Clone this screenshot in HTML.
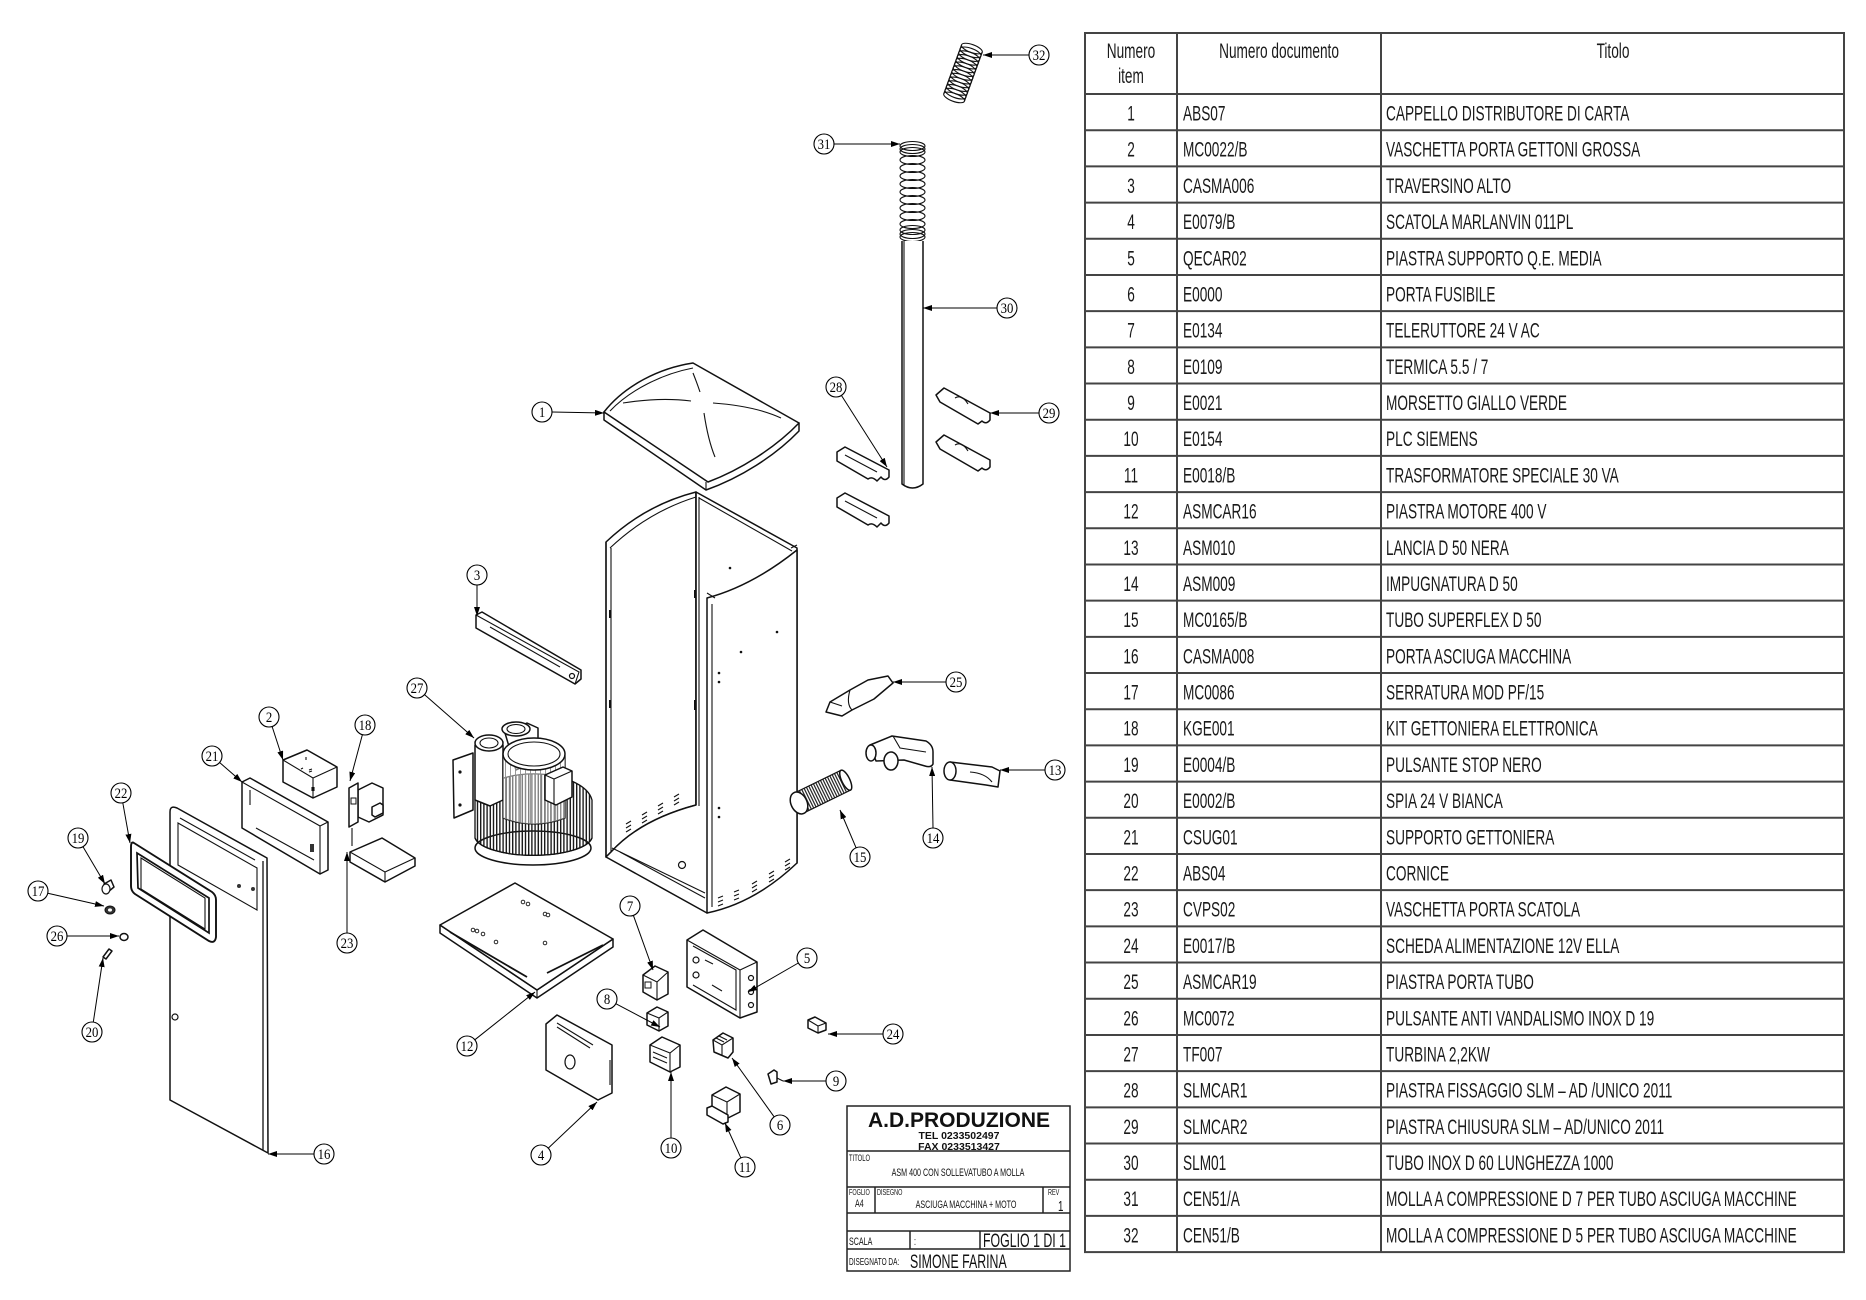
<!DOCTYPE html>
<html><head><meta charset="utf-8"><style>
html,body{margin:0;padding:0;background:#fff;}
svg{display:block;}
.t{font-family:"Liberation Sans",sans-serif;font-size:21px;fill:#1a1a1a;}
.n{font-family:"Liberation Serif",serif;font-size:15px;fill:#000;}
.p{fill:#fff;stroke:#111;stroke-width:1.5;stroke-linejoin:round;}
.l{fill:none;stroke:#111;stroke-width:1.3;}
.ld{fill:none;stroke:#111;stroke-width:1.1;}
.c{fill:#fff;stroke:#111;stroke-width:1.2;}
.tb{font-family:"Liberation Sans",sans-serif;fill:#111;}
</style></head><body>
<svg width="1866" height="1300" viewBox="0 0 1866 1300" xmlns="http://www.w3.org/2000/svg">
<defs>
<marker id="a" markerWidth="9" markerHeight="6" refX="9" refY="3" orient="auto" markerUnits="userSpaceOnUse"><path d="M0,0 L9,3 L0,6 Z" fill="#000"/></marker>
<pattern id="fins" width="3.2" height="20" patternUnits="userSpaceOnUse"><rect x="0" y="0" width="1.4" height="20" fill="#1a1a1a"/></pattern>
<pattern id="mf" width="5" height="20" patternUnits="userSpaceOnUse"><rect x="0" y="0" width="0.9" height="20" fill="#333"/></pattern>
<pattern id="corr" width="2.6" height="20" patternUnits="userSpaceOnUse"><rect x="0" y="0" width="1.2" height="20" fill="#222"/></pattern>
</defs>
<rect width="1866" height="1300" fill="#fff"/>

<!-- ========== TABLE ========== -->
<g stroke="#444" stroke-width="2" fill="none">
<rect x="1085" y="33" width="759" height="1219.1"/>
<line x1="1177" y1="33" x2="1177" y2="1252"/>
<line x1="1381" y1="33" x2="1381" y2="1252"/>
<line x1="1085" y1="94" x2="1844" y2="94"/>
<line x1="1085" y1="130.19" x2="1844" y2="130.19"/>
<line x1="1085" y1="166.38" x2="1844" y2="166.38"/>
<line x1="1085" y1="202.57" x2="1844" y2="202.57"/>
<line x1="1085" y1="238.76" x2="1844" y2="238.76"/>
<line x1="1085" y1="274.95" x2="1844" y2="274.95"/>
<line x1="1085" y1="311.14" x2="1844" y2="311.14"/>
<line x1="1085" y1="347.33" x2="1844" y2="347.33"/>
<line x1="1085" y1="383.52" x2="1844" y2="383.52"/>
<line x1="1085" y1="419.71" x2="1844" y2="419.71"/>
<line x1="1085" y1="455.9" x2="1844" y2="455.9"/>
<line x1="1085" y1="492.09" x2="1844" y2="492.09"/>
<line x1="1085" y1="528.28" x2="1844" y2="528.28"/>
<line x1="1085" y1="564.47" x2="1844" y2="564.47"/>
<line x1="1085" y1="600.66" x2="1844" y2="600.66"/>
<line x1="1085" y1="636.85" x2="1844" y2="636.85"/>
<line x1="1085" y1="673.04" x2="1844" y2="673.04"/>
<line x1="1085" y1="709.23" x2="1844" y2="709.23"/>
<line x1="1085" y1="745.42" x2="1844" y2="745.42"/>
<line x1="1085" y1="781.61" x2="1844" y2="781.61"/>
<line x1="1085" y1="817.8" x2="1844" y2="817.8"/>
<line x1="1085" y1="853.99" x2="1844" y2="853.99"/>
<line x1="1085" y1="890.18" x2="1844" y2="890.18"/>
<line x1="1085" y1="926.37" x2="1844" y2="926.37"/>
<line x1="1085" y1="962.56" x2="1844" y2="962.56"/>
<line x1="1085" y1="998.75" x2="1844" y2="998.75"/>
<line x1="1085" y1="1034.94" x2="1844" y2="1034.94"/>
<line x1="1085" y1="1071.13" x2="1844" y2="1071.13"/>
<line x1="1085" y1="1107.32" x2="1844" y2="1107.32"/>
<line x1="1085" y1="1143.51" x2="1844" y2="1143.51"/>
<line x1="1085" y1="1179.7" x2="1844" y2="1179.7"/>
<line x1="1085" y1="1215.89" x2="1844" y2="1215.89"/>
</g>
<g class="t">
<text text-anchor="middle" transform="translate(1131,58) scale(0.65,1)">Numero</text>
<text text-anchor="middle" transform="translate(1131,83) scale(0.65,1)">item</text>
<text text-anchor="middle" transform="translate(1279,58) scale(0.65,1)">Numero documento</text>
<text text-anchor="middle" transform="translate(1613,58) scale(0.65,1)">Titolo</text>
</g>
<g class="t">
<text text-anchor="middle" transform="translate(1131,120.5) scale(0.65,1)">1</text><text transform="translate(1183,120.5) scale(0.65,1)">ABS07</text><text transform="translate(1386,120.5) scale(0.65,1)">CAPPELLO DISTRIBUTORE DI CARTA</text>
<text text-anchor="middle" transform="translate(1131,156.7) scale(0.65,1)">2</text><text transform="translate(1183,156.7) scale(0.65,1)">MC0022/B</text><text transform="translate(1386,156.7) scale(0.65,1)">VASCHETTA PORTA GETTONI GROSSA</text>
<text text-anchor="middle" transform="translate(1131,192.9) scale(0.65,1)">3</text><text transform="translate(1183,192.9) scale(0.65,1)">CASMA006</text><text transform="translate(1386,192.9) scale(0.65,1)">TRAVERSINO ALTO</text>
<text text-anchor="middle" transform="translate(1131,229.1) scale(0.65,1)">4</text><text transform="translate(1183,229.1) scale(0.65,1)">E0079/B</text><text transform="translate(1386,229.1) scale(0.65,1)">SCATOLA MARLANVIN 011PL</text>
<text text-anchor="middle" transform="translate(1131,265.3) scale(0.65,1)">5</text><text transform="translate(1183,265.3) scale(0.65,1)">QECAR02</text><text transform="translate(1386,265.3) scale(0.65,1)">PIASTRA SUPPORTO Q.E. MEDIA</text>
<text text-anchor="middle" transform="translate(1131,301.5) scale(0.65,1)">6</text><text transform="translate(1183,301.5) scale(0.65,1)">E0000</text><text transform="translate(1386,301.5) scale(0.65,1)">PORTA FUSIBILE</text>
<text text-anchor="middle" transform="translate(1131,337.6) scale(0.65,1)">7</text><text transform="translate(1183,337.6) scale(0.65,1)">E0134</text><text transform="translate(1386,337.6) scale(0.65,1)">TELERUTTORE 24 V AC</text>
<text text-anchor="middle" transform="translate(1131,373.8) scale(0.65,1)">8</text><text transform="translate(1183,373.8) scale(0.65,1)">E0109</text><text transform="translate(1386,373.8) scale(0.65,1)">TERMICA 5.5 / 7</text>
<text text-anchor="middle" transform="translate(1131,410) scale(0.65,1)">9</text><text transform="translate(1183,410) scale(0.65,1)">E0021</text><text transform="translate(1386,410) scale(0.65,1)">MORSETTO GIALLO VERDE</text>
<text text-anchor="middle" transform="translate(1131,446.2) scale(0.65,1)">10</text><text transform="translate(1183,446.2) scale(0.65,1)">E0154</text><text transform="translate(1386,446.2) scale(0.65,1)">PLC SIEMENS</text>
<text text-anchor="middle" transform="translate(1131,482.4) scale(0.65,1)">11</text><text transform="translate(1183,482.4) scale(0.65,1)">E0018/B</text><text transform="translate(1386,482.4) scale(0.65,1)">TRASFORMATORE SPECIALE 30 VA</text>
<text text-anchor="middle" transform="translate(1131,518.6) scale(0.65,1)">12</text><text transform="translate(1183,518.6) scale(0.65,1)">ASMCAR16</text><text transform="translate(1386,518.6) scale(0.65,1)">PIASTRA MOTORE 400 V</text>
<text text-anchor="middle" transform="translate(1131,554.8) scale(0.65,1)">13</text><text transform="translate(1183,554.8) scale(0.65,1)">ASM010</text><text transform="translate(1386,554.8) scale(0.65,1)">LANCIA D 50 NERA</text>
<text text-anchor="middle" transform="translate(1131,591) scale(0.65,1)">14</text><text transform="translate(1183,591) scale(0.65,1)">ASM009</text><text transform="translate(1386,591) scale(0.65,1)">IMPUGNATURA D 50</text>
<text text-anchor="middle" transform="translate(1131,627.2) scale(0.65,1)">15</text><text transform="translate(1183,627.2) scale(0.65,1)">MC0165/B</text><text transform="translate(1386,627.2) scale(0.65,1)">TUBO SUPERFLEX D 50</text>
<text text-anchor="middle" transform="translate(1131,663.4) scale(0.65,1)">16</text><text transform="translate(1183,663.4) scale(0.65,1)">CASMA008</text><text transform="translate(1386,663.4) scale(0.65,1)">PORTA ASCIUGA MACCHINA</text>
<text text-anchor="middle" transform="translate(1131,699.5) scale(0.65,1)">17</text><text transform="translate(1183,699.5) scale(0.65,1)">MC0086</text><text transform="translate(1386,699.5) scale(0.65,1)">SERRATURA MOD PF/15</text>
<text text-anchor="middle" transform="translate(1131,735.7) scale(0.65,1)">18</text><text transform="translate(1183,735.7) scale(0.65,1)">KGE001</text><text transform="translate(1386,735.7) scale(0.65,1)">KIT GETTONIERA ELETTRONICA</text>
<text text-anchor="middle" transform="translate(1131,771.9) scale(0.65,1)">19</text><text transform="translate(1183,771.9) scale(0.65,1)">E0004/B</text><text transform="translate(1386,771.9) scale(0.65,1)">PULSANTE STOP NERO</text>
<text text-anchor="middle" transform="translate(1131,808.1) scale(0.65,1)">20</text><text transform="translate(1183,808.1) scale(0.65,1)">E0002/B</text><text transform="translate(1386,808.1) scale(0.65,1)">SPIA 24 V BIANCA</text>
<text text-anchor="middle" transform="translate(1131,844.3) scale(0.65,1)">21</text><text transform="translate(1183,844.3) scale(0.65,1)">CSUG01</text><text transform="translate(1386,844.3) scale(0.65,1)">SUPPORTO GETTONIERA</text>
<text text-anchor="middle" transform="translate(1131,880.5) scale(0.65,1)">22</text><text transform="translate(1183,880.5) scale(0.65,1)">ABS04</text><text transform="translate(1386,880.5) scale(0.65,1)">CORNICE</text>
<text text-anchor="middle" transform="translate(1131,916.7) scale(0.65,1)">23</text><text transform="translate(1183,916.7) scale(0.65,1)">CVPS02</text><text transform="translate(1386,916.7) scale(0.65,1)">VASCHETTA PORTA SCATOLA</text>
<text text-anchor="middle" transform="translate(1131,952.9) scale(0.65,1)">24</text><text transform="translate(1183,952.9) scale(0.65,1)">E0017/B</text><text transform="translate(1386,952.9) scale(0.65,1)">SCHEDA ALIMENTAZIONE 12V ELLA</text>
<text text-anchor="middle" transform="translate(1131,989.1) scale(0.65,1)">25</text><text transform="translate(1183,989.1) scale(0.65,1)">ASMCAR19</text><text transform="translate(1386,989.1) scale(0.65,1)">PIASTRA PORTA TUBO</text>
<text text-anchor="middle" transform="translate(1131,1025.3) scale(0.65,1)">26</text><text transform="translate(1183,1025.3) scale(0.65,1)">MC0072</text><text transform="translate(1386,1025.3) scale(0.65,1)">PULSANTE ANTI VANDALISMO INOX D 19</text>
<text text-anchor="middle" transform="translate(1131,1061.4) scale(0.65,1)">27</text><text transform="translate(1183,1061.4) scale(0.65,1)">TF007</text><text transform="translate(1386,1061.4) scale(0.65,1)">TURBINA 2,2KW</text>
<text text-anchor="middle" transform="translate(1131,1097.6) scale(0.65,1)">28</text><text transform="translate(1183,1097.6) scale(0.65,1)">SLMCAR1</text><text transform="translate(1386,1097.6) scale(0.65,1)">PIASTRA FISSAGGIO SLM – AD /UNICO 2011</text>
<text text-anchor="middle" transform="translate(1131,1133.8) scale(0.65,1)">29</text><text transform="translate(1183,1133.8) scale(0.65,1)">SLMCAR2</text><text transform="translate(1386,1133.8) scale(0.65,1)">PIASTRA CHIUSURA SLM – AD/UNICO 2011</text>
<text text-anchor="middle" transform="translate(1131,1170) scale(0.65,1)">30</text><text transform="translate(1183,1170) scale(0.65,1)">SLM01</text><text transform="translate(1386,1170) scale(0.65,1)">TUBO INOX D 60 LUNGHEZZA 1000</text>
<text text-anchor="middle" transform="translate(1131,1206.2) scale(0.65,1)">31</text><text transform="translate(1183,1206.2) scale(0.65,1)">CEN51/A</text><text transform="translate(1386,1206.2) scale(0.65,1)">MOLLA A COMPRESSIONE D 7 PER TUBO ASCIUGA MACCHINE</text>
<text text-anchor="middle" transform="translate(1131,1242.4) scale(0.65,1)">32</text><text transform="translate(1183,1242.4) scale(0.65,1)">CEN51/B</text><text transform="translate(1386,1242.4) scale(0.65,1)">MOLLA A COMPRESSIONE D 5 PER TUBO ASCIUGA MACCHINE</text>
</g>

<!-- ========== TITLE BLOCK ========== -->
<g stroke="#222" stroke-width="1.5" fill="none">
<rect x="847" y="1106" width="223" height="165"/>
<line x1="847" y1="1151" x2="1070" y2="1151"/>
<line x1="847" y1="1187" x2="1070" y2="1187"/>
<line x1="847" y1="1213" x2="1070" y2="1213"/>
<line x1="847" y1="1231" x2="1070" y2="1231"/>
<line x1="847" y1="1249" x2="1070" y2="1249"/>
<line x1="875" y1="1187" x2="875" y2="1213"/>
<line x1="1043" y1="1187" x2="1043" y2="1213"/>
<line x1="910" y1="1231" x2="910" y2="1249"/>
<line x1="980" y1="1231" x2="980" y2="1249"/>
</g>
<g class="tb">
<text x="959" y="1127" text-anchor="middle" font-size="21" font-weight="bold">A.D.PRODUZIONE</text>
<text x="959" y="1139" text-anchor="middle" font-size="10.5" font-weight="bold">TEL 0233502497</text>
<text x="959" y="1150" text-anchor="middle" font-size="10.5" font-weight="bold">FAX 0233513427</text>
<text transform="translate(849,1161) scale(0.65,1)" font-size="9">TITOLO</text>
<text text-anchor="middle" transform="translate(958,1176) scale(0.65,1)" font-size="11">ASM 400 CON SOLLEVATUBO A MOLLA</text>
<text transform="translate(849,1195) scale(0.65,1)" font-size="8.5">FOGLIO</text>
<text transform="translate(855,1207) scale(0.65,1)" font-size="11">A4</text>
<text transform="translate(877,1195) scale(0.65,1)" font-size="8.5">DISEGNO</text>
<text text-anchor="middle" transform="translate(966,1208) scale(0.65,1)" font-size="11">ASCIUGA MACCHINA + MOTO</text>
<text transform="translate(1048,1195) scale(0.65,1)" font-size="8.5">REV</text>
<text transform="translate(1058,1211) scale(0.65,1)" font-size="15">1</text>
<text transform="translate(849,1245) scale(0.65,1)" font-size="11">SCALA</text>
<text transform="translate(914,1245) scale(0.65,1)" font-size="11">:</text>
<text transform="translate(983,1247) scale(0.65,1)" font-size="19">FOGLIO 1 DI 1</text>
<text transform="translate(849,1265) scale(0.65,1)" font-size="10">DISEGNATO DA:</text>
<text transform="translate(910,1268) scale(0.65,1)" font-size="19">SIMONE FARINA</text>
</g>

<!-- ========== PARTS ========== -->
<!-- Spring 32 -->
<g transform="translate(963,73) rotate(20)" class="ld" stroke-width="1.5">
<ellipse cx="0" cy="-26" rx="11" ry="4"/><ellipse cx="0" cy="-22" rx="11" ry="4"/><ellipse cx="0" cy="-18" rx="11" ry="4"/>
<ellipse cx="0" cy="-14" rx="11" ry="4"/><ellipse cx="0" cy="-10" rx="11" ry="4"/><ellipse cx="0" cy="-6" rx="11" ry="4"/>
<ellipse cx="0" cy="-2" rx="11" ry="4"/><ellipse cx="0" cy="2" rx="11" ry="4"/><ellipse cx="0" cy="6" rx="11" ry="4"/>
<ellipse cx="0" cy="10" rx="11" ry="4"/><ellipse cx="0" cy="14" rx="11" ry="4"/><ellipse cx="0" cy="18" rx="11" ry="4"/>
<ellipse cx="0" cy="22" rx="11" ry="4"/><ellipse cx="0" cy="26" rx="11" ry="4"/>
<line x1="-11" y1="-26" x2="-11" y2="26"/><line x1="11" y1="-26" x2="11" y2="26"/>
</g>
<!-- Spring 31 -->
<g class="ld" stroke-width="1.4">
<ellipse cx="912.5" cy="146" rx="12.5" ry="4.5"/><ellipse cx="912.5" cy="149" rx="12.5" ry="4.5"/><ellipse cx="912.5" cy="152" rx="12.5" ry="4.5"/>
<ellipse cx="912.5" cy="160" rx="12.5" ry="4.5"/><ellipse cx="912.5" cy="168" rx="12.5" ry="4.5"/><ellipse cx="912.5" cy="176" rx="12.5" ry="4.5"/>
<ellipse cx="912.5" cy="184" rx="12.5" ry="4.5"/><ellipse cx="912.5" cy="192" rx="12.5" ry="4.5"/><ellipse cx="912.5" cy="200" rx="12.5" ry="4.5"/>
<ellipse cx="912.5" cy="208" rx="12.5" ry="4.5"/><ellipse cx="912.5" cy="216" rx="12.5" ry="4.5"/><ellipse cx="912.5" cy="224" rx="12.5" ry="4.5"/>
<ellipse cx="912.5" cy="230" rx="12.5" ry="4.5"/><ellipse cx="912.5" cy="234" rx="12.5" ry="4.5"/><ellipse cx="912.5" cy="237" rx="12.5" ry="4.5"/>
</g>
<!-- Tube 30 -->
<path class="p" d="M902,241 L902,484 Q912.5,492 923,484 L923,241"/>
<line class="ld" x1="904" y1="241" x2="904" y2="485"/>

<!-- Lid 1 -->
<path class="p" d="M604,412 L604,420 L706,490 C740,478 775,456 799,431 L799,423 Z"/>
<path class="p" d="M604,412 C625,385 660,368 693,363 L799,423 C775,448 740,470 708,482 Z"/>
<path class="ld" d="M706,482 L706,490"/>
<path class="ld" d="M623,403 Q660,397 691,401"/>
<path class="ld" d="M713,403 Q755,406 781,418"/>
<path class="ld" d="M693,373 Q697,383 700,392"/>
<path class="ld" d="M704,413 Q708,440 715,457"/>
<path class="ld" d="M610,411 C630,390 662,374 693,368"/>

<!-- Brackets 28 -->
<g class="p">
<path d="M837,452 L845,447 L889,470 L889,477 Q885,482 881,477 L877,481 Q872,476 868,479 L837,461 Z"/>
<path d="M837,498 L845,493 L889,516 L889,523 Q885,528 881,523 L877,527 Q872,522 868,525 L837,507 Z"/>
</g>
<path class="ld" d="M845,455 L877,472 M845,501 L877,518"/>
<!-- Brackets 29 -->
<g class="p">
<path d="M936,395 L944,388 L990,413 L990,420 Q986,425 982,421 L978,424 L940,402 Z"/>
<path d="M936,442 L944,435 L990,460 L990,467 Q986,472 982,468 L978,471 L940,449 Z"/>
</g>
<path class="ld" d="M955,398 Q962,394 968,404 M955,445 Q962,441 968,451"/>

<!-- Cabinet -->
<g>
<path class="p" d="M606,542 Q645,505 696,492 L696,805 Q640,820 611,852 L606,857 Z"/>
<path class="p" d="M696,492 L797,548 L797,863 L707,913 L606,857 L611,852 Q640,820 696,805 Z" fill="#fff"/>
<path class="p" d="M707,598 Q752,586 797,550 L797,863 Q755,903 707,913 Z"/>
<path class="l" d="M606,542 L606,857"/>
<line class="ld" x1="611" y1="548" x2="611" y2="852"/>
<line class="l" x1="696" y1="492" x2="696" y2="805"/>
<line class="ld" x1="699" y1="497" x2="699" y2="806"/>
<line class="ld" x1="712" y1="604" x2="712" y2="907"/>
<path class="ld" d="M699,498 L792,551"/>
<path class="ld" d="M612,848 L705,893"/>
<path class="ld" d="M620,852 L705,898"/>
<path class="ld" d="M707,593 L715,598 M791,548 L797,545"/>
<path class="ld" d="M610,548 Q648,512 696,497"/>
<circle class="c" cx="682" cy="865" r="3.5"/>
<g fill="#111">
<circle cx="730" cy="568" r="1.3"/><circle cx="777" cy="632" r="1.3"/><circle cx="741" cy="652" r="1.3"/>
<circle cx="719" cy="673" r="1.3"/><circle cx="719" cy="682" r="1.3"/><circle cx="719" cy="808" r="1.3"/><circle cx="719" cy="817" r="1.3"/>
<rect x="609" y="610" width="2" height="8"/><rect x="609" y="700" width="2" height="8"/><rect x="694" y="590" width="2" height="8"/><rect x="694" y="700" width="2" height="10"/>
</g>
<g class="ld">
<path d="M626,824 l5,-3 M626,828 l5,-3 M626,832 l5,-3"/>
<path d="M642,815 l5,-3 M642,819 l5,-3 M642,823 l5,-3"/>
<path d="M658,806 l5,-3 M658,810 l5,-3 M658,814 l5,-3"/>
<path d="M674,797 l5,-3 M674,801 l5,-3 M674,805 l5,-3"/>
<path d="M718,898 l5,-2 M718,902 l5,-2 M718,906 l5,-2"/>
<path d="M734,892 l5,-2 M734,896 l5,-2 M734,900 l5,-2"/>
<path d="M752,884 l5,-3 M752,888 l5,-3 M752,892 l5,-3"/>
<path d="M769,874 l5,-3 M769,878 l5,-3 M769,882 l5,-3"/>
<path d="M785,862 l5,-3 M785,866 l5,-3 M785,870 l5,-3"/>
</g>
</g>

<!-- Item 3 bar -->
<path class="p" d="M476,615 L476,628 L575,684 L581,679 L581,670 L482,612 Z"/>
<path class="ld" d="M476,615 L579,672 L575,684 M490,627 L560,667"/>
<circle class="c" cx="572" cy="676" r="2.5"/>

<!-- Turbine 27 -->
<ellipse class="p" cx="533" cy="848" rx="58" ry="17"/>
<path d="M475,800 A59,30 0 0 1 592,800 L592,838 A59,20 0 0 1 475,838 Z" fill="url(#fins)" stroke="#111" stroke-width="1.3"/>
<path class="l" d="M475,838 A59,20 0 0 0 592,838"/>
<path class="p" d="M453,760 L473,753 L473,810 L454,818 Z"/>
<circle cx="460" cy="772" r="1.6" fill="#111"/><circle cx="460" cy="805" r="1.6" fill="#111"/>
<path class="p" d="M505,733 L527,723 L538,728 L538,760 L516,770 Z"/>
<ellipse class="p" cx="516" cy="729" rx="14" ry="7"/><ellipse class="ld" cx="516" cy="729" rx="9" ry="4.5"/>
<path class="p" d="M475,745 L475,800 L490,806 L503,800 L503,745 Z"/>
<ellipse class="p" cx="489" cy="743" rx="14" ry="8"/><ellipse class="ld" cx="489" cy="743" rx="9" ry="5"/>
<path d="M503,756 L503,818 Q534,830 565,818 L565,756 Z" fill="url(#mf)" stroke="#111" stroke-width="1.3"/>
<path d="M503,756 L503,818 Q534,830 565,818 L565,756 Z" fill="#fff" fill-opacity="0.45"/>
<ellipse class="p" cx="534" cy="754" rx="31" ry="16"/>
<ellipse class="ld" cx="534" cy="754" rx="26" ry="12"/>
<path class="p" d="M545,775 L563,767 L572,771 L572,797 L556,805 L545,800 Z"/>
<path class="ld" d="M545,775 L554,779 L572,771 M554,779 L554,805"/>

<!-- Item 25 -->
<path class="p" d="M826,712 L830,702 L850,690 L868,680 L888,676 L893,683 L874,699 L852,710 L842,716 Z"/>
<path class="ld" d="M850,690 Q846,704 852,710 M830,702 L842,706"/>
<!-- Item 14 -->
<path class="p" d="M870,745 L892,736 L926,741 Q933,745 933,752 L933,764 Q931,768 925,766 L904,760 L876,761 Z"/>
<ellipse class="p" cx="871" cy="753" rx="5" ry="8"/>
<ellipse class="p" cx="891" cy="761" rx="7" ry="9"/>
<path class="ld" d="M893,736 L900,748 L926,752"/>
<!-- Item 13 -->
<path class="p" d="M950,762 L992,767 L1000,771 L998,787 L986,785 L950,780 Z"/>
<ellipse class="p" cx="950" cy="771" rx="6" ry="9"/>
<path class="ld" d="M970,772 Q985,773 992,782"/>
<!-- Item 15 corrugated tube -->
<g transform="translate(799,803) rotate(-26)">
<rect x="0" y="-11" width="52" height="22" fill="url(#corr)" stroke="#111" stroke-width="1.2"/>
<ellipse cx="52" cy="0" rx="4" ry="11" class="p"/>
<ellipse cx="0" cy="0" rx="8" ry="11.5" class="p"/>
</g>

<!-- Door 16 -->
<path class="p" d="M170,812 Q170,805 177,808 L267,858 L268,1153 L170,1100 Z"/>
<line class="l" x1="263" y1="861" x2="263" y2="1150"/>
<path class="ld" d="M178,823 L257,868 L257,910 L178,865 Z"/>
<path class="ld" d="M180,818 L255,860"/>
<circle class="c" cx="175" cy="1017" r="3"/>
<circle cx="239" cy="886" r="2" fill="#333"/><circle cx="253" cy="889" r="2" fill="#333"/>

<!-- Frame 22 -->
<path d="M134,843 L212,892 Q216,895 216,900 L216,937 Q215,944 209,941 L135,894 Q131,891 131,886 L131,847 Q131,841 134,843 Z" fill="#fff" stroke="#111" stroke-width="1.9"/>
<path d="M137,853 L209,898 L209,933 L138,888 Z" fill="none" stroke="#111" stroke-width="1.7"/>
<path class="ld" d="M141,858 L205,898 L205,929 L141,889 Z"/>

<!-- Plate 21 -->
<path class="p" d="M242,782 L250,778 L328,822 L328,870 L320,874 L242,828 Z"/>
<path class="ld" d="M242,782 L320,826 L320,874 M320,826 L328,822"/>
<path class="ld" d="M250,790 L250,805 M256,828 L314,860"/>
<rect x="310" y="844" width="4" height="8" fill="#333"/>
<!-- Box 2 -->
<path class="p" d="M283,760 L307,750 L337,767 L337,787 L313,798 L283,782 Z"/>
<path class="ld" d="M283,760 L313,778 L337,767 M313,778 L313,798"/>
<path class="ld" d="M306,757 l0,3 M301,769 l2,-1 M309,770 l3,-1 M309,772 l3,-1 M312,787 l0,4 M314,787 l0,4"/>
<!-- Coin mech 18 -->
<path class="p" d="M358,790 L372,783 L383,788 L383,815 L369,822 L358,817 Z"/>
<path class="p" d="M349,788 L358,783 L358,822 L349,827 Z"/>
<rect x="351" y="798" width="5" height="6" fill="#fff" stroke="#111"/>
<path class="p" d="M372,807 L380,803 L383,805 L383,813 L375,817 L372,815 Z"/>
<line class="ld" x1="352" y1="828" x2="352" y2="846"/>
<!-- Tray 23 -->
<path class="p" d="M350,852 L382,838 L415,858 L415,866 L385,882 L350,862 Z"/>
<path class="ld" d="M350,852 L385,872 L415,858 M385,872 L385,882"/>

<!-- small buttons -->
<g>
<path class="p" d="M104,884 L111,880 L114,887 L108,892 Z"/><ellipse class="c" cx="106" cy="889" rx="4" ry="5"/>
<ellipse cx="110" cy="910" rx="5" ry="4" fill="#333" stroke="#111"/><ellipse cx="110" cy="910" rx="2" ry="1.6" fill="#fff"/>
<ellipse cx="124" cy="937" rx="4" ry="3.5" fill="#fff" stroke="#111" stroke-width="1.5"/>
<path class="p" d="M103,957 L109,949 L112,951 L106,959 Z"/>
</g>

<!-- Plate 12 -->
<path class="p" d="M440,925 L440,933 L537,998 L613,947 L613,939 L537,990 Z"/>
<path class="p" d="M440,925 L515,883 L613,939 L537,990 Z"/>
<line class="ld" x1="537" y1="990" x2="537" y2="998"/>
<path d="M450,932 L527,977 M547,973 L603,945" stroke="#111" stroke-width="1.8"/>
<g fill="#fff" stroke="#111" stroke-width="0.9">
<circle cx="523" cy="902" r="1.8"/><circle cx="528" cy="904" r="1.8"/><circle cx="545" cy="914" r="1.8"/><circle cx="548" cy="915" r="1.8"/>
<circle cx="473" cy="930" r="1.8"/><circle cx="477" cy="931" r="1.8"/><circle cx="483" cy="934" r="1.8"/><circle cx="496" cy="942" r="1.8"/><circle cx="545" cy="943" r="1.8"/>
</g>
<!-- Box 4 -->
<path class="p" d="M546,1024 L557,1015 L612,1045 L612,1093 L598,1100 L546,1070 Z"/>
<path class="ld" d="M557,1023 L593,1045 M557,1027 L590,1048 M610,1060 L610,1085"/>
<ellipse class="c" cx="570" cy="1062" rx="5" ry="7"/>
<!-- Box 5 -->
<path class="p" d="M687,940 L703,930 L757,962 L757,1012 L740,1018 L687,987 Z"/>
<path class="ld" d="M687,940 L740,970 L757,962 M740,970 L740,1018"/>
<path class="ld" d="M693,946 L736,970 L736,1010 L693,985"/>
<g class="c"><circle cx="696" cy="960" r="3"/><circle cx="696" cy="975" r="3"/><circle cx="751" cy="978" r="2.5"/><circle cx="751" cy="992" r="2.5"/><circle cx="751" cy="1005" r="2.5"/></g>
<path class="ld" d="M705,960 l8,4 M712,985 l10,6"/>
<!-- 7 breaker -->
<path class="p" d="M643,975 L655,966 L668,972 L668,994 L657,1000 L643,992 Z"/>
<path class="ld" d="M643,975 L657,982 L668,972 M657,982 L657,1000"/>
<rect x="645" y="982" width="6" height="6" fill="#fff" stroke="#111"/>
<!-- 8 -->
<path class="p" d="M647,1013 L657,1007 L668,1012 L668,1026 L659,1031 L647,1025 Z"/>
<path class="ld" d="M647,1013 L659,1018 L668,1012 M659,1018 L659,1031"/>
<!-- 10 -->
<path class="p" d="M650,1045 L662,1037 L680,1045 L680,1067 L670,1072 L650,1062 Z"/>
<path class="ld" d="M650,1045 L670,1053 L680,1045 M670,1053 L670,1072 M653,1052 L667,1058 M653,1057 L667,1063"/>
<!-- 6 -->
<path class="p" d="M713,1040 L723,1033 L733,1038 L733,1052 L728,1058 L714,1052 Z"/>
<path class="ld" d="M713,1040 L722,1045 L733,1038 M722,1045 L722,1055 M716,1038 l8,4 M719,1036 l8,4"/>
<!-- 11 -->
<path class="p" d="M712,1095 L726,1087 L740,1094 L740,1112 L728,1118 L712,1110 Z"/>
<path class="ld" d="M712,1095 L727,1102 L740,1094 M727,1102 L727,1118"/>
<path class="p" d="M707,1108 L712,1106 L728,1115 L728,1122 L723,1124 L707,1115 Z"/>
<!-- 24 -->
<path class="p" d="M808,1020 L815,1017 L826,1023 L826,1030 L818,1033 L808,1028 Z"/>
<path class="ld" d="M808,1020 L818,1026 L826,1023 M818,1026 L818,1033"/>
<!-- 9 -->
<path class="p" d="M768,1074 L774,1070 L777,1072 L777,1082 L771,1084 Z"/>
<path class="ld" d="M777,1078 L783,1081"/>

<!-- ========== LEADERS ========== -->
<g stroke="#000" stroke-width="1" fill="none" marker-end="url(#a)">
<line x1="552" y1="412" x2="604" y2="413"/>
<line x1="272.1" y1="726.5" x2="283" y2="760"/>
<line x1="477" y1="585" x2="477" y2="616"/>
<line x1="548.3" y1="1148.1" x2="597" y2="1102"/>
<line x1="798.3" y1="963" x2="748" y2="992"/>
<line x1="774.2" y1="1116.9" x2="732" y2="1058"/>
<line x1="633.4" y1="915.4" x2="653" y2="970"/>
<line x1="615.8" y1="1003.7" x2="660" y2="1027"/>
<line x1="826" y1="1081" x2="783" y2="1081"/>
<line x1="671" y1="1138" x2="671" y2="1072"/>
<line x1="740.9" y1="1157.9" x2="725" y2="1123"/>
<line x1="474.8" y1="1039.8" x2="535" y2="992"/>
<line x1="1045" y1="770" x2="1000" y2="770"/>
<line x1="933" y1="828" x2="932" y2="767"/>
<line x1="856.1" y1="847.8" x2="840" y2="810"/>
<line x1="314" y1="1154" x2="268" y2="1154"/>
<line x1="47.8" y1="893.2" x2="104" y2="906"/>
<line x1="362.4" y1="734.6" x2="350" y2="781"/>
<line x1="83" y1="846.7" x2="105" y2="884"/>
<line x1="93.3" y1="1022.1" x2="103" y2="958"/>
<line x1="219.6" y1="762.5" x2="242" y2="782"/>
<line x1="122.8" y1="802.8" x2="130" y2="843"/>
<line x1="347" y1="933" x2="347" y2="852"/>
<line x1="883" y1="1034" x2="828" y2="1034"/>
<line x1="946" y1="682" x2="893" y2="682"/>
<line x1="67" y1="936" x2="119" y2="936"/>
<line x1="424.5" y1="694.6" x2="474" y2="738"/>
<line x1="841.4" y1="395.4" x2="887" y2="467"/>
<line x1="1039" y1="413" x2="990" y2="413"/>
<line x1="997" y1="308" x2="923" y2="308"/>
<line x1="834" y1="144" x2="900" y2="144"/>
<line x1="1029" y1="55" x2="983" y2="55"/>
</g>

<!-- ========== BALLOONS ========== -->
<g fill="#fff" stroke="#000" stroke-width="1.1">
<circle cx="542" cy="412" r="10"/><circle cx="269" cy="717" r="10"/><circle cx="477" cy="575" r="10"/><circle cx="541" cy="1155" r="10"/>
<circle cx="807" cy="958" r="10"/><circle cx="780" cy="1125" r="10"/><circle cx="630" cy="906" r="10"/><circle cx="607" cy="999" r="10"/>
<circle cx="836" cy="1081" r="10"/><circle cx="671" cy="1148" r="10"/><circle cx="745" cy="1167" r="10"/><circle cx="467" cy="1046" r="10"/>
<circle cx="1055" cy="770" r="10"/><circle cx="933" cy="838" r="10"/><circle cx="860" cy="857" r="10"/><circle cx="324" cy="1154" r="10"/>
<circle cx="38" cy="891" r="10"/><circle cx="365" cy="725" r="10"/><circle cx="78" cy="838" r="10"/><circle cx="92" cy="1032" r="10"/>
<circle cx="212" cy="756" r="10"/><circle cx="121" cy="793" r="10"/><circle cx="347" cy="943" r="10"/><circle cx="893" cy="1034" r="10"/>
<circle cx="956" cy="682" r="10"/><circle cx="57" cy="936" r="10"/><circle cx="417" cy="688" r="10"/><circle cx="836" cy="387" r="10"/>
<circle cx="1049" cy="413" r="10"/><circle cx="1007" cy="308" r="10"/><circle cx="824" cy="144" r="10"/><circle cx="1039" cy="55" r="10"/>
</g>
<g class="n" text-anchor="middle">
<text transform="translate(542,417) scale(0.85,1)">1</text><text transform="translate(269,722) scale(0.85,1)">2</text><text transform="translate(477,580) scale(0.85,1)">3</text><text transform="translate(541,1160) scale(0.85,1)">4</text>
<text transform="translate(807,963) scale(0.85,1)">5</text><text transform="translate(780,1130) scale(0.85,1)">6</text><text transform="translate(630,911) scale(0.85,1)">7</text><text transform="translate(607,1004) scale(0.85,1)">8</text>
<text transform="translate(836,1086) scale(0.85,1)">9</text><text transform="translate(671,1153) scale(0.85,1)">10</text><text transform="translate(745,1172) scale(0.85,1)">11</text><text transform="translate(467,1051) scale(0.85,1)">12</text>
<text transform="translate(1055,775) scale(0.85,1)">13</text><text transform="translate(933,843) scale(0.85,1)">14</text><text transform="translate(860,862) scale(0.85,1)">15</text><text transform="translate(324,1159) scale(0.85,1)">16</text>
<text transform="translate(38,896) scale(0.85,1)">17</text><text transform="translate(365,730) scale(0.85,1)">18</text><text transform="translate(78,843) scale(0.85,1)">19</text><text transform="translate(92,1037) scale(0.85,1)">20</text>
<text transform="translate(212,761) scale(0.85,1)">21</text><text transform="translate(121,798) scale(0.85,1)">22</text><text transform="translate(347,948) scale(0.85,1)">23</text><text transform="translate(893,1039) scale(0.85,1)">24</text>
<text transform="translate(956,687) scale(0.85,1)">25</text><text transform="translate(57,941) scale(0.85,1)">26</text><text transform="translate(417,693) scale(0.85,1)">27</text><text transform="translate(836,392) scale(0.85,1)">28</text>
<text transform="translate(1049,418) scale(0.85,1)">29</text><text transform="translate(1007,313) scale(0.85,1)">30</text><text transform="translate(824,149) scale(0.85,1)">31</text><text transform="translate(1039,60) scale(0.85,1)">32</text>
</g>
</svg>
</body></html>
